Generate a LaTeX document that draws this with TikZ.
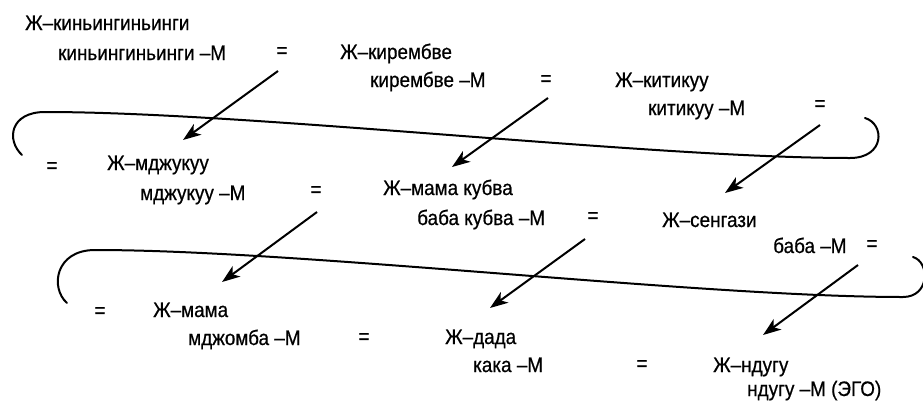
\documentclass[tikz,border=0pt]{standalone}
\usepackage{fontspec}
\setmainfont[FakeStretch=0.9,FakeBold=0.6]{Liberation Sans}
\usetikzlibrary{arrows.meta}
\tikzset{
  txt/.style={anchor=base west, inner sep=0pt, font=\fontsize{21}{25}\selectfont},
  eq/.style={anchor=base, inner sep=0pt, font=\fontsize{21}{25}\selectfont},
  loopline/.style={line width=2pt, line cap=round},
  arr/.style={line width=2pt, -{Stealth[length=18pt,width=13pt,inset=5pt]}},
}
\begin{document}
\begin{tikzpicture}[x=1pt,y=-1pt]
\useasboundingbox (0,0) rectangle (923,402);
% row 1
\node[txt] (t1a) at (25,30) {Ж–киньингиньинги};
\node[txt] (t1b) at (58,60) {киньингиньинги –М};
\node[eq] (e1) at (282,57.5) {=};
\node[txt] (t2a) at (340,59) {Ж–кирембве};
\node[txt] (t2b) at (370,87) {кирембве –М};
\node[eq] (e2) at (546,85.5) {=};
\node[txt] (t3a) at (615,87) {Ж–китикуу};
\node[txt] (t3b) at (648,115) {китикуу –М};
\node[eq] (e3) at (820,110.5) {=};
% row 2
\node[eq] (e4) at (52,172.5) {=};
\node[txt] (t4a) at (107,170) {Ж–мджукуу};
\node[txt] (t4b) at (140,200) {мджукуу –М};
\node[eq] (e5) at (316,196.5) {=};
\node[txt] (t5a) at (383,195) {Ж–мама кубва};
\node[txt] (t5b) at (417,225) {баба кубва –М};
\node[eq] (e6) at (593,222.5) {=};
\node[txt] (t6a) at (662,227) {Ж–сенгази};
\node[txt] (t6b) at (773,253) {баба –М};
\node[eq] (e7) at (872,250.5) {=};
% row 3
\node[eq] (e8) at (100,317.5) {=};
\node[txt] (t7a) at (153,317) {Ж–мама};
\node[txt] (t7b) at (188,345) {мджомба –М};
\node[eq] (e9) at (364,343.5) {=};
\node[txt] (t8a) at (445,344) {Ж–дада};
\node[txt] (t8b) at (473,372) {кака –М};
\node[eq] (e10) at (642,370.5) {=};
\node[txt] (t9a) at (713,372) {Ж–ндугу};
\node[txt] (t9b) at (747,396) {ндугу –М (ЭГО)};
% loops
\draw[loopline] (22,155) .. controls (6,140) and (10,112) .. (45,112)
  .. controls (250,112) and (650,158) .. (850,158)
  .. controls (885,158) and (885,124) .. (865,118);
\draw[loopline] (67,303) .. controls (50,288) and (55,250) .. (95,250)
  .. controls (300,250) and (700,297) .. (903,297)
  .. controls (930,297) and (930,262) .. (913,257);
% arrow end points
\coordinate (s1) at (278,71);  \coordinate (d1) at (183,140);
\coordinate (s2) at (548,98);  \coordinate (d2) at (452,167);
\coordinate (s3) at (820,125); \coordinate (d3) at (725,193);
\coordinate (s4) at (317,212); \coordinate (d4) at (222,282);
\coordinate (s5) at (585,239); \coordinate (d5) at (490,308);
\coordinate (s6) at (858,265); \coordinate (d6) at (763,335);
\foreach \i in {1,...,6} \draw[arr] (s\i) -- (d\i);
\end{tikzpicture}
\end{document}
